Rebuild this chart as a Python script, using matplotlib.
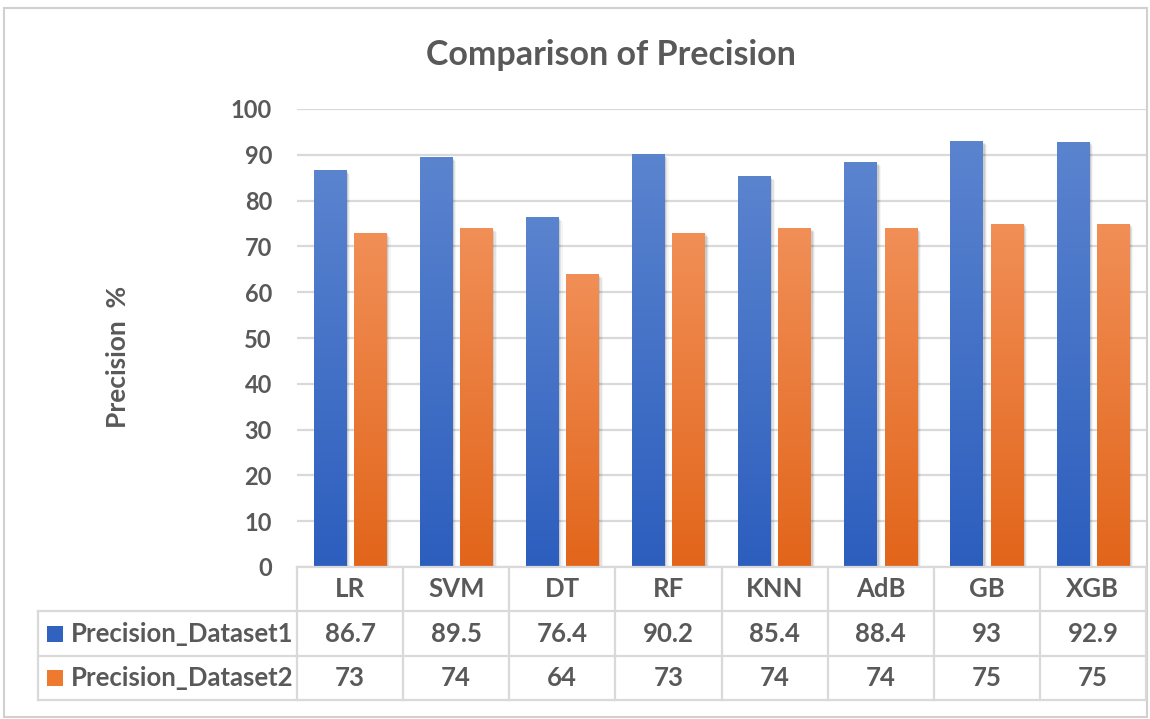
import numpy as np
import matplotlib
matplotlib.use("Agg")
import matplotlib.pyplot as plt
from matplotlib.colors import LinearSegmentedColormap
from matplotlib.patches import Rectangle
from matplotlib.lines import Line2D

plt.rcParams["font.family"] = ["Lato", "DejaVu Sans"]

# ---- data ----
models = ["LR", "SVM", "DT", "RF", "KNN", "AdB", "GB", "XGB"]
precision_ds1 = [86.7, 89.5, 76.4, 90.2, 85.4, 88.4, 93, 92.9]
precision_ds2 = [73, 74, 64, 73, 74, 74, 75, 75]
series_names = ["Precision_Dataset1", "Precision_Dataset2"]
y_ticks = [0, 10, 20, 30, 40, 50, 60, 70, 80, 90, 100]

W, H = 1150, 719
TEXT = "#595959"
GRID = "#d9d9d9"
blue_map = LinearSegmentedColormap.from_list("blue", ["#2c5ebe", "#5b84cf"])
orange_map = LinearSegmentedColormap.from_list("orange", ["#e2651a", "#f18f57"])
legend_colors = ["#3063c0", "#ee7a30"]

fig = plt.figure(figsize=(W / 100, H / 100), dpi=100)

# plot-area geometry in pixels
PX_L, PX_R = 297, 1146
PX_TOP, PX_BOT = 109, 567

ax = fig.add_axes([PX_L / W, 1 - PX_BOT / H, (PX_R - PX_L) / W, (PX_BOT - PX_TOP) / H])
n = len(models)
x = np.arange(n)
bw = 0.306
off = 0.19

ax.set_xlim(-0.5, n - 0.5)
ax.set_ylim(0, 100)
for s in ax.spines.values():
    s.set_visible(False)
ax.set_xticks([])
ax.set_yticks(y_ticks)
ax.tick_params(axis="y", length=0, pad=18, labelsize=17, labelcolor=TEXT)
for lab in ax.get_yticklabels():
    lab.set_fontweight("bold")
ax.yaxis.grid(True, color=GRID, linewidth=1.6)
ax.set_axisbelow(True)


def gradient_bars(xpos, vals, cmap):
    bars = ax.bar(xpos, vals, width=bw, color="none", edgecolor="none", zorder=3)
    grad = np.linspace(0, 1, 256).reshape(-1, 1)
    for b in bars:
        bx, by = b.get_x(), b.get_y()
        bwid, bh = b.get_width(), b.get_height()
        # soft drop shadow
        for k, a in enumerate([0.10, 0.07, 0.04]):
            d = 0.012 + 0.008 * k
            ax.add_patch(Rectangle((bx + d * 0.4, by - 0.6), bwid + d, bh + 0.2 - 0.25 * k,
                                   facecolor="#000000", alpha=a, edgecolor="none", zorder=2))
        im = ax.imshow(grad, cmap=cmap, origin="lower", aspect="auto",
                       extent=(bx, bx + bwid, by, by + bh), zorder=3)
        im.set_clip_path(b)
    return bars


gradient_bars(x - off, precision_ds1, blue_map)
gradient_bars(x + off, precision_ds2, orange_map)
ax.set_xlim(-0.5, n - 0.5)
ax.set_ylim(0, 100)

# ---- overlay in pixel coordinates: frame, title, axis label, data table ----
ov = fig.add_axes([0, 0, 1, 1], zorder=5)
ov.set_xlim(0, W)
ov.set_ylim(H, 0)
ov.axis("off")
ov.patch.set_alpha(0)

# chart frame
ov.add_patch(Rectangle((4, 8), 1143, 709, facecolor="none", edgecolor="#d0d0d0", linewidth=1.5))

ov.text(611, 55, "Comparison of Precision", ha="center", va="center",
        fontsize=24.5, fontweight="bold", color=TEXT)
ov.text(118, 357, "Precision  %", ha="center", va="center", rotation=90,
        fontsize=19, fontweight="bold", color=TEXT)

# data table
col_w = (PX_R - PX_L) / n
TBL_L = 38
ROW_Y = [567, 611, 656, 700]
lw = 1.6
# horizontal rules
ov.add_line(Line2D([PX_L, PX_R], [ROW_Y[0], ROW_Y[0]], color=GRID, lw=lw))
for yy in ROW_Y[1:]:
    ov.add_line(Line2D([TBL_L, PX_R], [yy, yy], color=GRID, lw=lw))
# vertical rules
ov.add_line(Line2D([TBL_L, TBL_L], [ROW_Y[1], ROW_Y[3]], color=GRID, lw=lw))
for i in range(n + 1):
    xx = PX_L + i * col_w
    ov.add_line(Line2D([xx, xx], [ROW_Y[0], ROW_Y[3]], color=GRID, lw=lw))

cell_fs = 18.5
for i, m in enumerate(models):
    cx = PX_L + (i + 0.5) * col_w
    ov.text(cx, (ROW_Y[0] + ROW_Y[1]) / 2, m, ha="center", va="center",
            fontsize=cell_fs, fontweight="bold", color=TEXT)
    ov.text(cx, (ROW_Y[1] + ROW_Y[2]) / 2, f"{precision_ds1[i]:g}", ha="center", va="center",
            fontsize=cell_fs, fontweight="bold", color=TEXT)
    ov.text(cx, (ROW_Y[2] + ROW_Y[3]) / 2, f"{precision_ds2[i]:g}", ha="center", va="center",
            fontsize=cell_fs, fontweight="bold", color=TEXT)

for r, (name, c) in enumerate(zip(series_names, legend_colors)):
    cy = (ROW_Y[r + 1] + ROW_Y[r + 2]) / 2
    ov.add_patch(Rectangle((47, cy - 8), 16, 16, facecolor=c, edgecolor="none"))
    ov.text(71, cy, name, ha="left", va="center", fontsize=cell_fs,
            fontweight="bold", color=TEXT)

fig.savefig("out.png", dpi=100, facecolor="white")
